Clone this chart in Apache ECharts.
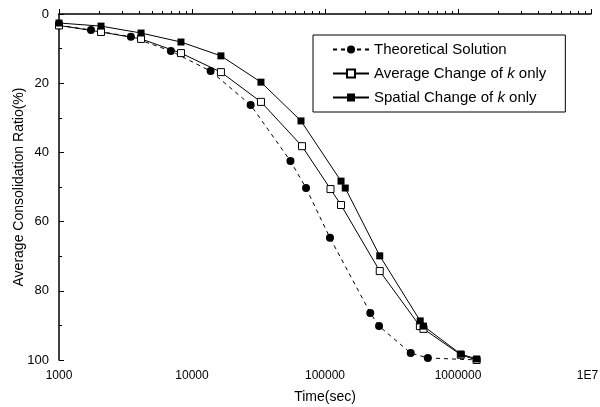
<!DOCTYPE html>
<html>
<head>
<meta charset="utf-8">
<script src="https://cdn.jsdelivr.net/npm/echarts@6/dist/echarts.min.js"></script>
<style>
  html, body { margin: 0; padding: 0; background: #fff; }
  #chart { width: 600px; height: 407px; }
</style>
</head>
<body>
<div id="chart"></div>
<script>
// values: [time (sec), ratio (%)]
var theoryTime = [1000, 1740, 3470, 6940, 13800, 27600, 55000, 72000, 109000, 219000, 255000, 441000, 593000, 1380000];
var theoryRatio = [3.3, 4.6, 6.6, 10.7, 16.5, 26.3, 42.5, 50.3, 64.7, 86.4, 90.2, 98.0, 99.4, 100];

var avgTime = [1000, 2070, 4140, 8260, 16500, 33000, 67200, 110000, 132000, 258000, 517000, 550000, 1050000, 1380000];
var avgRatio = [3.3, 5.2, 7.2, 11.3, 16.8, 25.4, 38.2, 50.6, 55.2, 74.3, 90.2, 91.0, 98.5, 100];

var spTime = [1000, 2070, 4140, 8260, 16500, 33000, 66000, 132000, 142000, 258000, 520000, 550000, 1050000, 1380000];
var spRatio = [2.6, 3.5, 5.5, 8.1, 12.1, 19.7, 30.9, 48.3, 50.3, 69.9, 88.7, 90.2, 98.3, 99.7];

var xTicks = { 1000: "1000", 10000: "10000", 100000: "100000", 1000000: "1000000", 10000000: "{e|1E7}" };

function pairs(xs, ys) {
  return xs.map(function (x, i) { return [x, ys[i]]; });
}

var chart = echarts.init(document.getElementById("chart"));
chart.setOption({
  animation: false,
  textStyle: { fontFamily: "Liberation Sans, Arial, sans-serif", color: "#000" },
  grid: { left: 59, right: 9, top: 14, bottom: 47, containLabel: false, outerBoundsMode: "none" },
  legend: {
    orient: "vertical",
    left: 313,
    top: 35,
    itemWidth: 36,
    itemHeight: 10,
    itemGap: 9,
    padding: [7, 19, 7, 19],
    borderColor: "#000",
    borderWidth: 1,
    textStyle: {
      fontSize: 15,
      color: "#000",
      rich: {
        i: { fontStyle: "italic", fontSize: 15, color: "#000" }
      }
    },
    formatter: function (name) {
      return name.replace(" k ", " {i|k} ");
    },
    data: ["Theoretical Solution", "Average Change of k only", "Spatial Change of k only"]
  },
  xAxis: {
    type: "log",
    logBase: 10,
    min: 1000,
    max: 10000000,
    name: "Time(sec)",
    nameLocation: "middle",
    nameGap: 30,
    nameMoveOverlap: false,
    nameTextStyle: { fontSize: 14, color: "#000" },
    axisLine: { lineStyle: { color: "#000", width: 1.5 } },
    axisTick: { inside: true, length: 5, lineStyle: { color: "#000" } },
    minorTick: { show: true, splitNumber: 9, length: 3, lineStyle: { color: "#000" } },
    splitLine: { show: false },
    axisLabel: {
      fontSize: 12,
      color: "#000",
      margin: 10,
      rich: { e: { fontSize: 12, color: "#000", padding: [0, 7, 0, 0] } },
      formatter: function (v) { return xTicks[Math.round(v)] || ""; }
    }
  },
  yAxis: {
    type: "value",
    inverse: true,
    min: 0,
    max: 100,
    interval: 20,
    name: "Average Consolidation Ratio(%)",
    nameLocation: "middle",
    nameGap: 33,
    nameMoveOverlap: false,
    nameTextStyle: { fontSize: 14, color: "#000" },
    axisLine: { show: true, lineStyle: { color: "#000", width: 1.5 } },
    axisTick: { show: true, inside: true, length: 5, lineStyle: { color: "#000" } },
    minorTick: { show: true, splitNumber: 2, length: 3, lineStyle: { color: "#000" } },
    splitLine: { show: false },
    axisLabel: { fontSize: 13, color: "#000", margin: 10 }
  },
  series: [
    {
      name: "Theoretical Solution",
      type: "line",
      data: pairs(theoryTime, theoryRatio),
      symbol: "circle",
      symbolSize: 8,
      itemStyle: { color: "#000" },
      lineStyle: { color: "#000", width: 1, type: [4, 4] },
      z: 2
    },
    {
      name: "Average Change of k only",
      type: "line",
      data: pairs(avgTime, avgRatio),
      symbol: "rect",
      symbolSize: 7,
      itemStyle: { color: "#fff", borderColor: "#000", borderWidth: 1 },
      lineStyle: { color: "#000", width: 1 },
      z: 3
    },
    {
      name: "Spatial Change of k only",
      type: "line",
      data: pairs(spTime, spRatio),
      symbol: "rect",
      symbolSize: 7,
      itemStyle: { color: "#000" },
      lineStyle: { color: "#000", width: 1 },
      z: 4
    }
  ]
});
</script>
</body>
</html>
